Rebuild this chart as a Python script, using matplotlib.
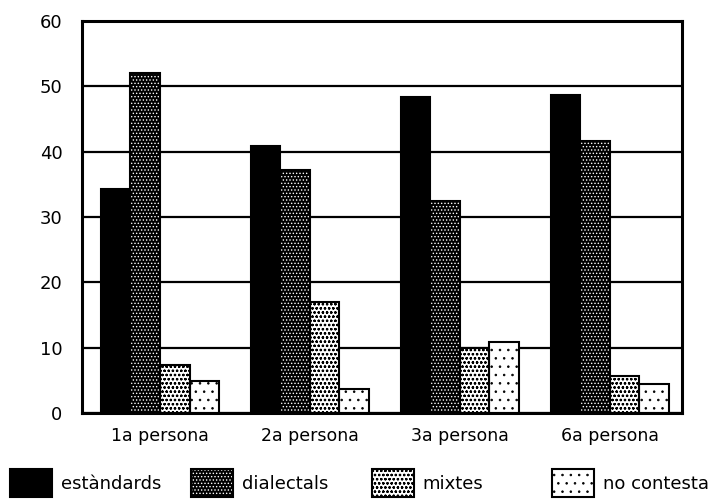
import numpy as np
import matplotlib
matplotlib.use("Agg")
import matplotlib.pyplot as plt
from matplotlib.legend_handler import HandlerTuple

groups = ["1a persona", "2a persona", "3a persona", "6a persona"]
series = ["estàndards", "dialectals", "mixtes", "no contesta"]
estandards = [34.3, 40.9, 48.3, 48.6]
dialectals = [52.1, 37.2, 32.4, 41.7]
mixtes = [7.3, 17.0, 9.9, 5.7]
no_contesta = [4.9, 3.6, 10.8, 4.4]

values = [estandards, dialectals, mixtes, no_contesta]
# face colour, hatch, hatch colour
styles = [
    ("black", None, "black"),
    ("black", ".....", "white"),
    ("white", "oooo", "black"),
    ("white", "..", "black"),
]

plt.rcParams["font.family"] = "DejaVu Sans"
plt.rcParams["hatch.linewidth"] = 0.6

fig = plt.figure(figsize=(7.21, 5.0), dpi=100)
ax = fig.add_axes([0.1137, 0.174, 0.832, 0.784])

x = np.arange(len(groups))
w = 0.197
offsets = (np.arange(4) - 1.5) * w + 0.02

handles = []
for vals, name, off, (fc, hatch, hc) in zip(values, series, offsets, styles):
    # hatch layer (hatch colour comes from edgecolor)
    ax.bar(x + off, vals, w, color=fc, edgecolor=hc, hatch=hatch,
           linewidth=0, zorder=2)
    # outline layer
    ax.bar(x + off, vals, w, fill=False, edgecolor="black",
           linewidth=1.5, zorder=3)
    h1 = plt.Rectangle((0, 0), 1, 1, facecolor=fc, edgecolor=hc,
                       hatch=hatch, linewidth=0)
    h2 = plt.Rectangle((0, 0), 1, 1, fill=False, edgecolor="black",
                       linewidth=1.5)
    handles.append((h1, h2))

ax.set_xlim(-0.5, 3.5)
ax.set_ylim(0, 60)
ax.set_yticks(range(0, 61, 10))
ax.set_xticks(x + 0.02)
ax.set_xticklabels(groups)
ax.yaxis.grid(True, color="black", linewidth=1.6)
ax.set_axisbelow(True)
for s in ax.spines.values():
    s.set_linewidth(2.2)
ax.tick_params(axis="y", length=0, pad=14, labelsize=13)
ax.tick_params(axis="x", length=0, pad=10, labelsize=12.5)

# legend entries spread along the bottom edge, like the original
leg_x = [10, 191, 372, 552]
for hx, h, name in zip(leg_x, handles, series):
    fig.legend([h], [name], loc="lower left",
               bbox_to_anchor=(hx / 721, 0.006), frameon=False,
               fontsize=13, handlelength=2.3, handleheight=2.0,
               handletextpad=0.5, borderpad=0, borderaxespad=0,
               handler_map={tuple: HandlerTuple(ndivide=1, pad=0)})

fig.savefig("out.png", dpi=100)
